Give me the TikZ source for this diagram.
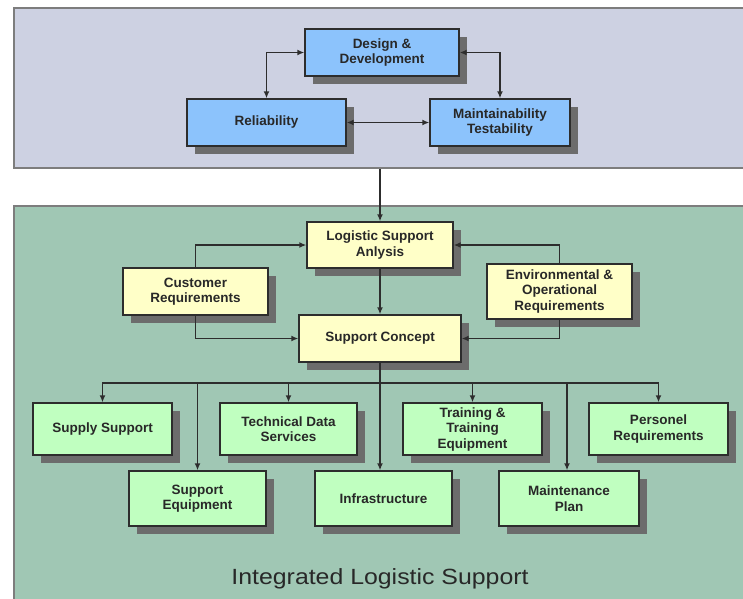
\documentclass[tikz,border=0pt]{standalone}
\usepackage{fontspec}
\setmainfont{Liberation Sans}
\usetikzlibrary{arrows.meta,shadows}
\definecolor{topbg}{RGB}{205,209,226}
\definecolor{botbg}{RGB}{160,199,180}
\definecolor{panelline}{RGB}{125,125,125}
\definecolor{bluefill}{RGB}{140,195,252}
\definecolor{yelfill}{RGB}{255,255,200}
\definecolor{grnfill}{RGB}{192,255,192}
\definecolor{shadowgray}{RGB}{108,108,108}
\definecolor{edge}{RGB}{45,45,45}
\definecolor{txt}{RGB}{40,40,40}
\tikzset{
  panelbox/.style={draw=panelline, line width=2pt, inner sep=0pt, anchor=north west},
  boxbase/.style={draw=edge, line width=1.4pt, inner sep=0pt, align=center,
    text=txt, font=\bfseries\fontsize{13.5}{15.5}\selectfont,
    drop shadow={shadow xshift=8pt, shadow yshift=-8pt, fill=shadowgray, opacity=1}},
  bluebox/.style={boxbase, fill=bluefill},
  yelbox/.style={boxbase, fill=yelfill},
  grnbox/.style={boxbase, fill=grnfill},
  conn/.style={draw=edge, line width=1.4pt, -{Latex[length=7pt,width=6pt]}},
  dconn/.style={draw=edge, line width=1.4pt, {Latex[length=7pt,width=6pt]}-{Latex[length=7pt,width=6pt]}},
  plain/.style={draw=edge, line width=1.4pt}
}
\begin{document}
\begin{tikzpicture}[x=1pt,y=-1pt]
\useasboundingbox (0,0) rectangle (743,598);
\clip (0,0) rectangle (743,598);
\fill[white] (0,0) rectangle (743,598);
% panels
\node[panelbox, fill=topbg, minimum width=760pt, minimum height=160pt] (toppanel) at (12.5,7) {};
\node[panelbox, fill=botbg, minimum width=760pt, minimum height=420pt] (botpanel) at (12.5,205) {};
% top boxes
\node[bluebox, minimum width=154pt, minimum height=47pt] (dd) at (382,52.5) {Design \&\\Development};
\node[bluebox, minimum width=159pt, minimum height=47pt] (rel) at (266.5,122.5) {Reliability};
\node[bluebox, minimum width=140pt, minimum height=47pt] (mt) at (500,122.5) {Maintainability\\Testability};
% middle boxes
\node[yelbox, minimum width=146pt, minimum height=46pt] (lsa) at (380,245) {Logistic Support\\Anlysis};
\node[yelbox, minimum width=145pt, minimum height=47pt] (cr) at (195.5,291.5) {Customer\\Requirements};
\node[yelbox, minimum width=145pt, minimum height=55pt] (env) at (559.5,291.5) {Environmental \&\\Operational\\Requirements};
\node[yelbox, minimum width=162pt, minimum height=47pt] (sc) at (380,338.5) {Support Concept};
% bottom boxes row 1
\node[grnbox, minimum width=139pt, minimum height=52pt] (ss) at (102.5,429) {Supply Support};
\node[grnbox, minimum width=137pt, minimum height=52pt] (tds) at (288.5,429) {Technical Data\\Services};
\node[grnbox, minimum width=139pt, minimum height=52pt] (tte) at (472.5,429) {Training \&\\Training\\Equipment};
\node[grnbox, minimum width=139pt, minimum height=52pt] (pr) at (658.5,429) {Personel\\Requirements};
% bottom boxes row 2
\node[grnbox, minimum width=137pt, minimum height=55pt] (se) at (197.5,498.5) {Support\\Equipment};
\node[grnbox, minimum width=137pt, minimum height=55pt] (inf) at (383.5,498.5) {Infrastructure};
\node[grnbox, minimum width=140pt, minimum height=55pt] (mp) at (569,498.5) {Maintenance\\Plan};
% title
\node[anchor=base, text=txt, inner sep=0pt] (title) at (380,584)
  {\scalebox{1.13}[1]{\fontsize{22}{26}\selectfont Integrated Logistic Support}};
% connectors top
\draw[dconn] (rel.north) |- (dd.west);
\draw[dconn] (mt.north) |- (dd.east);
\draw[dconn] (rel.east) -- (mt.west);
\draw[conn] (lsa.north |- toppanel.south) -- (lsa.north);
% middle connectors
\draw[conn] (cr.north) |- (lsa.west);
\draw[conn] (cr.south) |- (sc.west);
\draw[conn] (env.north) |- (lsa.east);
\draw[conn] (env.south) |- (sc.east);
\draw[conn] (lsa.south) -- (sc.north);
% bus
\coordinate (bus) at (380,383);
\draw[plain] (sc.south) -- (bus);
\draw[conn] (bus) -| (ss.north);
\draw[conn] (bus) -| (tds.north);
\draw[conn] (bus) -| (tte.north);
\draw[conn] (bus) -| (pr.north);
\draw[conn] (bus) -| (se.north);
\draw[conn] (bus) -- (bus |- inf.north);
\draw[conn] (bus) -| ([xshift=-2pt]mp.north);
\end{tikzpicture}
\end{document}
